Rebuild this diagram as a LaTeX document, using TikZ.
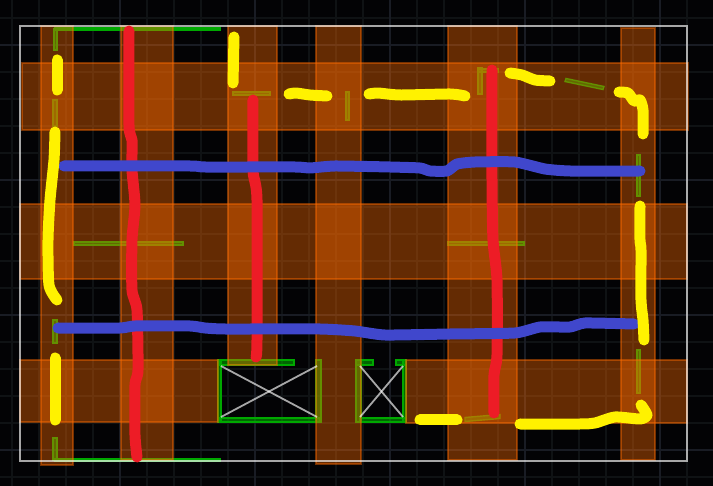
\documentclass[tikz,border=0pt]{standalone}
\usepackage{tikz}
\definecolor{mbg}{rgb}{0.01, 0.01, 0.02}
\definecolor{mminor}{rgb}{0.06, 0.07, 0.08}
\definecolor{mmajor}{rgb}{0.10, 0.11, 0.14}
\definecolor{mgreen}{rgb}{0.0, 0.66, 0.0}
\definecolor{morange}{rgb}{1.0, 0.42, 0.0}
\definecolor{mred}{rgb}{0.93, 0.11, 0.15}
\definecolor{mblue}{rgb}{0.25, 0.28, 0.80}
\definecolor{myellow}{rgb}{1.0, 0.95, 0.0}
\tikzset{band/.style = {fill=morange, fill opacity=0.39, draw=morange, draw opacity=0.45, line width=1.4}}
\tikzset{wall/.style = {draw=mgreen, line width=1.4, fill=mgreen, fill opacity=0.6}}
\tikzset{cross/.style = {draw=white, draw opacity=0.65, line width=1.8}}
\tikzset{paint/.style = {line width=11, line cap=round, line join=round}}

\begin{document}
\begin{tikzpicture}[x=1pt, y=-1pt]
      \useasboundingbox (0, 0) rectangle (713, 486);
      \fill [mbg] (0, 0) rectangle (713, 486);

      % grid
      \foreach \gx in {12, 39, ..., 700}
        \draw [mminor, line width=1.2] (\gx, 0) -- (\gx, 486);
      \foreach \gy in {18, 45, ..., 480}
        \draw [mminor, line width=1.2] (0, \gy) -- (713, \gy);
      \foreach \gx in {120, 255, 390, 525, 660}
        \draw [mmajor, line width=1.8] (\gx, 0) -- (\gx, 486);
      \foreach \gy in {45, 180, 315, 450}
        \draw [mmajor, line width=1.8] (0, \gy) -- (713, \gy);

      % thin walls
      \foreach \xa/\ya/\xb/\yb in {
        54/29/57/50, 55/28/220/30, 53/100/57/126, 53/320/57/343, 53/438/57/460,
        55/459/220/461, 233/92/270/95, 346/92/349/120, 478/68/482/94, 478/69/498/72,
        637/155/640/196, 637/350/640/393, 74/242/183/245, 448/242/524/245,
        218/360/221/422, 220/360/294/365, 220/418/320/422, 316/360/321/422,
        356/360/361/422, 356/360/373/365, 396/360/406/365, 403/360/406/422, 360/418/406/422}
        \filldraw [wall] (\xa, \ya) rectangle (\xb, \yb);
      \filldraw [wall] (566, 78.5) -- (604, 86.5) -- (603, 89.5) -- (565, 81.5) -- cycle;
      \filldraw [wall] (465, 417.5) -- (500, 414.5) -- (500, 418.5) -- (465, 421.5) -- cycle;

      % bands
      \foreach \xa/\ya/\xb/\yb in {
        41/26/73/465, 121/26/173/460, 228/26/277/365, 316/26/361/464, 448/26/517/460, 621/28/655/460,
        22/63/688/130, 20/204/687/279, 20/360/218/422, 406/360/687/423}
        \filldraw [band] (\xa, \ya) rectangle (\xb, \yb);

      % outline
      \draw [white, draw opacity=0.65, line width=2] (20, 26) rectangle (687, 461);
      \draw [cross] (221, 366) -- (317, 417);
      \draw [cross] (221, 417) -- (317, 366);
      \draw [cross] (360, 366) -- (403, 417);
      \draw [cross] (360, 417) -- (403, 366);

      % red
      \draw [paint, mred] plot [smooth, tension=0.4] coordinates {(129, 31) (129, 125) (132, 140) (132, 170)
        (135, 205) (132, 240) (132, 290) (137, 310) (138, 370) (135, 385) (135, 435) (137, 457)};
      \draw [paint, mred] plot [smooth, tension=0.4] coordinates {(253, 100) (253, 170) (257, 200) (257, 340) (256, 357)};
      \draw [paint, mred] plot [smooth, tension=0.4] coordinates {(492, 70) (492, 180) (493, 240) (497, 280) (497, 355)
        (494, 375) (494, 413)};

      % blue
      \draw [paint, mblue] plot [smooth, tension=0.3] coordinates {(64, 166) (190, 166) (205, 167) (295, 167) (310, 168)
        (335, 166) (390, 167) (420, 168) (430, 171) (447, 171) (457, 164) (475, 162) (515, 162)
        (545, 169) (570, 171) (640, 171)};
      \draw [paint, mblue] plot [smooth, tension=0.3] coordinates {(58, 328) (120, 328) (135, 326) (190, 326) (205, 328)
        (225, 329) (320, 329) (355, 331) (385, 335) (450, 334) (515, 333) (540, 327) (570, 327)
        (585, 323) (634, 324)};

      % yellow
      \draw [paint, myellow] (57, 60) -- (57, 90);
      \draw [paint, myellow] plot [smooth, tension=0.4] coordinates {(55, 132) (54, 160) (50, 200) (48, 240) (49, 285) (57, 300)};
      \draw [paint, myellow] (55, 358) -- (55, 420);
      \draw [paint, myellow] (234, 37) -- (233, 83);
      \draw [paint, myellow] plot [smooth, tension=0.4] coordinates {(289, 94) (296, 93) (310, 95) (327, 96)};
      \draw [paint, myellow] plot [smooth, tension=0.4] coordinates {(369, 94) (378, 93) (400, 95) (450, 94) (465, 96)};
      \draw [paint, myellow] plot [smooth, tension=0.4] coordinates {(510, 73) (522, 75) (535, 80) (550, 81)};
      \draw [paint, myellow] plot [smooth, tension=0.4] coordinates {(619, 92) (628, 93) (634, 101) (640, 100) (643, 110) (643, 134)};
      \draw [paint, myellow] plot [smooth, tension=0.4] coordinates {(640, 206) (640, 240) (641, 250) (641, 300) (643, 320) (644, 340)};
      \draw [paint, myellow] plot [smooth, tension=0.4] coordinates {(641, 405) (647, 415) (640, 419) (615, 417) (595, 423) (580, 424) (520, 424)};
      \draw [paint, myellow] (420, 420) -- (457, 420);
\end{tikzpicture}
\end{document}
